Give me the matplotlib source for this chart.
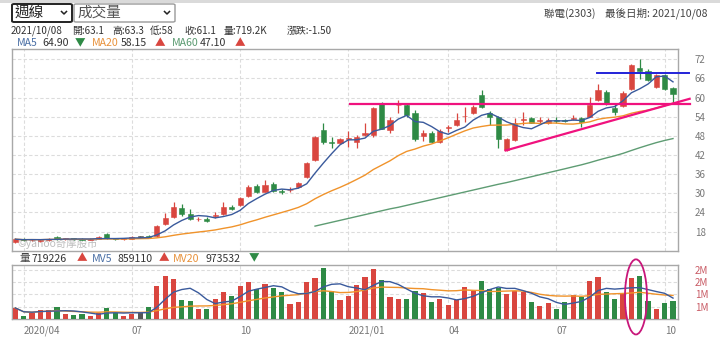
import matplotlib
matplotlib.use("Agg")
import matplotlib.pyplot as plt
import numpy as np
import pandas as pd
from matplotlib.lines import Line2D
from matplotlib.patches import Ellipse, FancyBboxPatch, Rectangle

plt.rcParams["font.family"] = ["Noto Sans CJK TC", "DejaVu Sans"]

# weekly candles (week ending Friday); no trading in the lunar new year week 2021-02-12
week_end = pd.date_range("2020-03-27", "2021-10-08", freq="W-FRI")
week_end = week_end[week_end != pd.Timestamp("2021-02-12")]

opens = [
    14.8, 15.6, 15.2, 14.9, 15.2, 16.2, 15.6, 15.8, 15.7, 15.5,
    15.7, 17.2, 15.9, 15.6, 15.8, 16.4, 16.7, 16.5, 20.3, 22.7,
    25.3, 23.4, 21.8, 21.9, 22.8, 23.5, 25.8, 26.3, 29.1, 32.3,
    30.5, 32.9, 30.6, 30.9, 31.9, 35.0, 40.4, 49.8, 46.0, 45.9,
    47.0, 46.2, 48.3, 48.3, 58.2, 49.8, 57.5, 57.7, 55.3, 48.0,
    49.0, 46.2, 50.6, 51.4, 54.1, 55.1, 60.8, 55.1, 54.0, 43.6,
    46.7, 52.9, 53.5, 52.6, 51.9, 53.1, 53.0, 53.4, 53.5, 54.0,
    59.2, 61.8, 56.6, 57.4, 62.6, 69.2, 68.4, 63.4, 67.0, 63.1,
]
highs = [
    15.9, 15.9, 15.7, 15.6, 16.0, 16.5, 16.0, 16.0, 15.9, 15.9,
    16.6, 17.6, 16.1, 16.0, 16.6, 16.7, 16.9, 20.0, 23.7, 27.4,
    26.5, 25.2, 22.5, 22.4, 24.2, 27.1, 26.3, 28.8, 32.6, 33.0,
    34.0, 33.6, 31.3, 31.8, 33.5, 39.8, 47.9, 51.9, 47.5, 47.3,
    49.5, 48.2, 51.9, 57.0, 58.7, 53.8, 59.2, 58.0, 56.0, 49.7,
    49.5, 50.0, 51.4, 55.3, 57.1, 57.6, 62.3, 55.8, 54.2, 47.3,
    53.5, 55.6, 54.0, 53.8, 53.6, 53.8, 53.4, 54.6, 53.9, 60.1,
    64.2, 62.5, 58.2, 62.0, 70.5, 72.0, 69.0, 67.5, 67.3, 63.3,
]
lows = [
    14.5, 15.1, 15.0, 14.6, 15.0, 15.5, 15.4, 15.4, 15.3, 15.3,
    15.6, 15.7, 15.4, 15.5, 15.7, 16.1, 16.2, 16.4, 20.0, 22.3,
    23.0, 21.5, 21.2, 21.0, 22.2, 23.2, 24.8, 26.0, 28.8, 30.2,
    30.3, 30.5, 29.8, 30.3, 31.6, 34.8, 40.0, 45.4, 44.1, 45.5,
    44.6, 44.1, 47.8, 47.5, 50.0, 48.8, 55.0, 54.0, 46.5, 46.5,
    45.8, 45.8, 49.3, 51.0, 52.4, 54.8, 56.8, 51.4, 44.1, 43.3,
    46.3, 51.4, 51.9, 52.0, 51.6, 52.0, 52.2, 52.8, 50.9, 53.8,
    58.8, 57.5, 54.5, 57.0, 62.3, 65.7, 65.2, 63.0, 62.4, 58.0,
]
closes = [
    15.6, 15.3, 15.5, 15.4, 15.8, 15.7, 15.8, 15.6, 15.5, 15.7,
    16.3, 15.9, 15.6, 15.8, 16.4, 16.4, 16.4, 19.7, 22.2, 25.6,
    23.5, 21.8, 21.9, 21.3, 22.9, 25.6, 25.0, 28.4, 32.1, 30.5,
    32.6, 30.8, 30.5, 31.0, 33.1, 39.4, 47.5, 46.2, 45.9, 46.9,
    47.1, 47.7, 48.8, 56.6, 50.2, 52.8, 57.8, 54.6, 46.9, 49.0,
    46.2, 49.6, 50.7, 53.0, 54.2, 57.1, 57.1, 54.0, 46.9, 46.9,
    52.1, 53.0, 52.1, 53.0, 53.0, 52.5, 52.6, 53.5, 52.4, 57.7,
    62.2, 57.9, 55.6, 61.5, 70.2, 68.4, 65.4, 67.0, 62.6, 61.1,
]
# volume in thousand lots
volumes_k = [
    450, 140, 240, 380, 380, 490, 200, 180, 200, 140,
    240, 450, 240, 140, 200, 240, 470, 1350, 1770, 1640,
    780, 720, 420, 410, 810, 1090, 920, 1350, 1490, 1230,
    1430, 1280, 1120, 620, 690, 1500, 1660, 2070, 1150, 780,
    920, 1390, 1730, 2030, 1570, 890, 820, 820, 1150, 1050,
    680, 820, 580, 760, 1320, 1150, 1550, 1220, 1280, 1030,
    1160, 1090, 690, 540, 650, 410, 680, 960, 880, 1550,
    1730, 1120, 810, 1010, 1690, 1760, 720, 410, 650, 719.2,
]
# MA60 for weeks whose 60-week window starts before the first candle
ma60_head_start = 36
ma60_head = [
    19.7, 20.3, 20.9, 21.5, 22.1, 22.7, 23.3, 23.9, 24.5, 25.1,
    25.6, 26.2, 26.8, 27.4, 28.0, 28.6, 29.2, 29.8, 30.4, 31.0,
    31.6, 32.2, 32.8,
]

# hand-drawn marks on the original screenshot
resist_level = 58.0
box_top_level = 67.6
trend_start = (58.9, 43.4)
trend_end = (81.0, 59.6)

RED = "#d9463f"
GREEN = "#2e8a45"
GREY = "#555555"
BLUE = "#3a5a9c"
ORANGE = "#f0932b"
MA60_COL = "#5e9c73"
PINK = "#f0127e"
GRID = "#dcdcdc"
FRAME = "#a8a8a8"

W, H = 720, 348
fig = plt.figure(figsize=(W / 100, H / 100), dpi=100)


def box(px0, py0, px1, py1):
    return [px0 / W, 1 - py1 / H, (px1 - px0) / W, (py1 - py0) / H]


def ftxt(px, py, s, **kw):
    kw.setdefault("fontsize", 7.6)
    kw.setdefault("color", "#333333")
    fig.text(px / W, 1 - py / H, s, va="center", **kw)


ax = fig.add_axes(box(12, 49, 678, 251))
axv = fig.add_axes(box(12, 265, 678, 319))

x = np.arange(len(closes))
o, h, l, c = (np.asarray(a, dtype=float) for a in (opens, highs, lows, closes))
col = np.where(c > o, RED, np.where(c < o, GREEN, GREY))

# candles
ax.vlines(x, l, h, colors=col, lw=0.9, zorder=3)
ax.bar(x, np.maximum(np.abs(c - o), 0.25), bottom=np.minimum(o, c), width=0.62,
       color=col, edgecolor=col, lw=0.4, zorder=4)

cs = pd.Series(c)
ma5 = cs.rolling(5, min_periods=1).mean()
ma20 = cs.rolling(20, min_periods=1).mean()
ma60 = cs.rolling(60).mean()
ma60.iloc[ma60_head_start:ma60_head_start + len(ma60_head)] = ma60_head
ax.plot(x, ma20, color=ORANGE, lw=1.0, zorder=5)
ax.plot(x, ma60, color=MA60_COL, lw=1.0, zorder=5)
ax.plot(x, ma5, color=BLUE, lw=1.0, zorder=5)

# volume
vs = pd.Series(volumes_k, dtype=float)
axv.bar(x, vs, width=0.62, color=col, zorder=3)
axv.plot(x, vs.rolling(20, min_periods=1).mean(), color=ORANGE, lw=1.0, zorder=4)
axv.plot(x, vs.rolling(5, min_periods=1).mean(), color=BLUE, lw=1.0, zorder=4)

# quarter gridlines / labels
months = week_end.month
qi = [i for i in range(len(week_end))
      if months[i] in (1, 4, 7, 10) and (i == 0 or months[i] != months[i - 1])]
qlabels = [f"{week_end[i].year}/{months[i]:02d}" if (k == 0 or months[i] == 1) else f"{months[i]:02d}"
           for k, i in enumerate(qi)]

for a in (ax, axv):
    a.set_xlim(-0.4, 79.6)
    a.set_xticks(qi)
    a.grid(True, color=GRID, ls=(0, (3, 2)), lw=0.8, zorder=0)
    a.set_axisbelow(True)
    a.yaxis.tick_right()
    a.tick_params(length=0, labelsize=7, labelcolor="#777777", pad=12)
    for s in a.spines.values():
        s.set_color(FRAME)
        s.set_linewidth(1.0)

ax.set_ylim(11.9, 75.2)
ax.set_yticks(np.arange(18, 73, 6))
ax.set_xticklabels([])

axv.set_ylim(0, 2200)
axv.set_yticks([500, 1000, 1500, 2000])
axv.set_yticklabels([f"{int(v / 1000 + 0.5)}M" for v in [500, 1000, 1500, 2000]])
axv.tick_params(axis="y", labelcolor="#c85a64")
axv.set_xticklabels(qlabels)
axv.tick_params(axis="x", pad=5)
for t in axv.get_xticklabels():
    t.set_ha("left")

# annotations drawn over the chart
ax.plot([40.2, 81.0], [resist_level, resist_level], color=PINK, lw=1.6, clip_on=False, zorder=6)
ax.plot([trend_start[0], trend_end[0]], [trend_start[1], trend_end[1]], color=PINK, lw=1.6,
        clip_on=False, zorder=6)
ax.plot([69.9, 80.9], [box_top_level, box_top_level], color="#2323d8", lw=1.4, clip_on=False, zorder=6)
axv.add_patch(Ellipse((74.55, 900), 2.64, 3060, fill=False, ec="#c8177a", lw=1.3,
                      clip_on=False, zorder=6))

ax.text(0.3, 12.6, "©yahoo奇摩股市", fontsize=7.5, color="#bdbdbd", va="bottom", zorder=2)

# header
fig.add_artist(Rectangle((0, 1 - 3 / H), 1, 3 / H, transform=fig.transFigure, color="#dadada", lw=0))
for (x0, x1, ec, lw_) in ((12, 72, "#222222", 1.4), (74, 175, "#9a9a9a", 1.0)):
    fig.add_artist(FancyBboxPatch((x0 / W, 1 - 22 / H), (x1 - x0) / W, 18 / H,
                                  boxstyle="round,pad=0,rounding_size=0.003",
                                  transform=fig.transFigure, fc="white", ec=ec, lw=lw_))
    cx = x1 - 8
    fig.add_artist(Line2D([(cx - 2.5) / W, cx / W, (cx + 2.5) / W],
                          [1 - 11.5 / H, 1 - 14 / H, 1 - 11.5 / H],
                          transform=fig.transFigure, color="#222222", lw=1.1))
ftxt(15, 13, "週線", fontsize=10.5, color="#222222")
ftxt(77, 13, "成交量", fontsize=10.5, color="#555555")

ftxt(708, 13.5, "聯電(2303)    最後日期: 2021/10/08", ha="right", color="#444444")

for px, s in ((11, "2021/10/08"), (72, "開:63.1"), (112, "高:63.3"), (150, "低:58"),
              (184, "收:61.1"), (224, "量:719.2K"), (287, "漲跌:-1.50")):
    ftxt(px, 31, s, fontsize=7.1)

for px, s, cl in ((17, "MA5", "#4a6fa5"), (42, "64.90", "#333333"), (75, "▼", GREEN),
                  (92, "MA20", "#e8913a"), (121, "58.15", "#333333"), (155, "▲", RED),
                  (172, "MA60", "#5a9a70"), (200, "47.10", "#333333"), (235, "▲", RED)):
    ftxt(px, 43, s, color=cl)

for px, s, cl in ((20, "量", "#444444"), (32, "719226", "#333333"), (77, "▲", RED),
                  (92, "MV5", "#4a6fa5"), (117, "859110", "#333333"), (159, "▲", RED),
                  (173, "MV20", "#e8913a"), (205, "973532", "#333333"), (249, "▼", GREEN)):
    ftxt(px, 258.5, s, color=cl)

fig.savefig("out.png", dpi=100)
